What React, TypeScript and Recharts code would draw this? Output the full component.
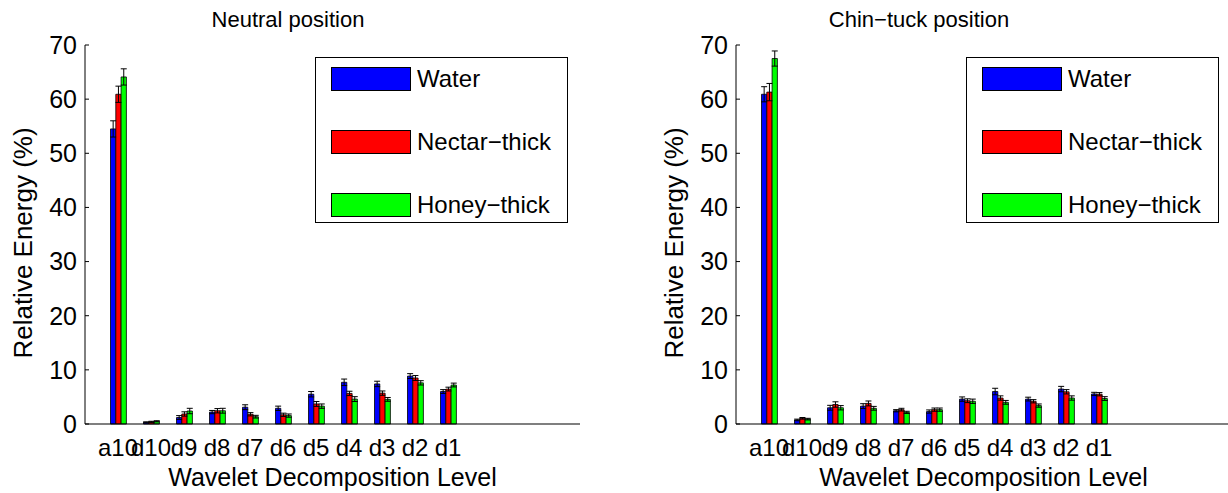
import { BarChart, Bar, XAxis, YAxis, ErrorBar, Legend } from 'recharts';

const levels = ['a10', 'd10', 'd9', 'd8', 'd7', 'd6', 'd5', 'd4', 'd3', 'd2', 'd1'];
const yTicks = [0, 10, 20, 30, 40, 50, 60, 70];
const xTicks = [1, 2, 3, 4, 5, 6, 7, 8, 9, 10, 11];

const seriesNames = ['Water', 'Nectar\u2212thick', 'Honey\u2212thick'];
const seriesColors = ['#0000ff', '#ff0000', '#00ff00'];

// neutral position
const neutralWater = [54.5, 0.3, 1.2, 2.2, 3.1, 2.9, 5.5, 7.7, 7.4, 8.85, 6.0];
const neutralNectar = [60.9, 0.4, 1.85, 2.45, 1.8, 1.7, 3.7, 5.65, 5.7, 8.5, 6.45];
const neutralHoney = [64.1, 0.5, 2.4, 2.45, 1.35, 1.55, 3.3, 4.6, 4.55, 7.6, 7.2];
const neutralWaterErr = [1.5, 0.1, 0.35, 0.3, 0.45, 0.4, 0.5, 0.6, 0.5, 0.45, 0.35];
const neutralNectarErr = [1.5, 0.1, 0.4, 0.4, 0.3, 0.3, 0.45, 0.4, 0.4, 0.45, 0.35];
const neutralHoneyErr = [1.5, 0.1, 0.5, 0.45, 0.25, 0.3, 0.4, 0.45, 0.35, 0.4, 0.35];

// chin-tuck position
const chinWater = [60.9, 0.75, 3.0, 3.3, 2.45, 2.3, 4.6, 6.0, 4.6, 6.45, 5.55];
const chinNectar = [61.3, 1.05, 3.6, 3.8, 2.65, 2.65, 4.3, 4.8, 4.2, 5.95, 5.5];
const chinHoney = [67.5, 0.9, 3.0, 2.9, 2.15, 2.65, 4.2, 4.0, 3.4, 4.8, 4.7];
const chinWaterErr = [1.4, 0.15, 0.45, 0.45, 0.2, 0.3, 0.4, 0.6, 0.35, 0.5, 0.3];
const chinNectarErr = [1.6, 0.15, 0.5, 0.45, 0.25, 0.3, 0.35, 0.4, 0.3, 0.4, 0.3];
const chinHoneyErr = [1.4, 0.15, 0.4, 0.35, 0.2, 0.3, 0.4, 0.35, 0.3, 0.4, 0.35];

const font = '"Liberation Sans", Arial, Helvetica, sans-serif';

const buildRows = (vals: number[][], errs: number[][]) =>
  levels.map((name, i) => ({
    pos: i + 1,
    name,
    s0: vals[0][i],
    s1: vals[1][i],
    s2: vals[2][i],
    e0: errs[0][i],
    e1: errs[1][i],
    e2: errs[2][i],
  }));

const neutralRows = buildRows(
  [neutralWater, neutralNectar, neutralHoney],
  [neutralWaterErr, neutralNectarErr, neutralHoneyErr]
);
const chinRows = buildRows(
  [chinWater, chinNectar, chinHoney],
  [chinWaterErr, chinNectarErr, chinHoneyErr]
);

const LegendBox = () => (
  <div
    style={{
      width: 253,
      height: 166,
      border: '1px solid #000',
      background: '#fff',
      boxSizing: 'border-box',
      position: 'relative',
      fontFamily: font,
      fontSize: 24,
      color: '#000',
    }}
  >
    {seriesNames.map((s, i) => (
      <div
        key={s}
        style={{ position: 'absolute', left: 15, top: 9 + i * 63, display: 'flex', alignItems: 'center', whiteSpace: 'nowrap' }}
      >
        <div style={{ width: 80, height: 24, background: seriesColors[i], border: '1px solid #000', boxSizing: 'border-box' }} />
        <span style={{ marginLeft: 6, lineHeight: '24px' }}>{s}</span>
      </div>
    ))}
  </div>
);

function EnergyPanel({ rows, left, width, marginRight }: { rows: any[]; left: number; width: number; marginRight: number }) {
  return (
    <div style={{ position: 'absolute', left, top: 0 }}>
      <BarChart
        width={width}
        height={493}
        data={rows}
        margin={{ top: 45, right: marginRight, bottom: 0, left: 0 }}
        barGap={0}
        barSize={5.3}
      >
        <XAxis
          dataKey="pos"
          type="number"
          domain={[0, 15]}
          ticks={xTicks}
          interval={0}
          allowDataOverflow
          height={69}
          tickSize={0}
          tickMargin={15}
          tickLine={false}
          axisLine={{ stroke: '#000', strokeWidth: 1.2 }}
          tick={{ fill: '#000', fontSize: 24, fontFamily: font }}
          tickFormatter={(v: number) => levels[v - 1] ?? ''}
        />
        <YAxis
          type="number"
          domain={[0, 70]}
          ticks={yTicks}
          width={85}
          tickSize={-4}
          tickMargin={12}
          interval={0}
          axisLine={{ stroke: '#000' }}
          tickLine={{ stroke: '#000' }}
          tick={{ fill: '#000', fontSize: 25, fontFamily: font }}
        />
        <Legend
          layout="vertical"
          align="center"
          verticalAlign="middle"
          content={() => <LegendBox />}
          wrapperStyle={{ left: 315, top: 57, width: 253, height: 166 }}
        />
        {seriesNames.map((s, i) => (
          <Bar key={s} dataKey={`s${i}`} name={s} fill={seriesColors[i]} stroke="#000" strokeWidth={0.8} isAnimationActive={false}>
            <ErrorBar dataKey={`e${i}`} width={3} stroke="#000" strokeWidth={1} direction="y" />
          </Bar>
        ))}
      </BarChart>
    </div>
  );
}

export default function App() {
  return (
    <div style={{ position: 'absolute', left: 0, top: 0, width: 1228, height: 493, overflow: 'hidden', background: '#fff' }}>
      <EnergyPanel rows={neutralRows} left={0} width={600} marginRight={20} />
      <EnergyPanel rows={chinRows} left={651} width={580} marginRight={0} />
      <svg width={1228} height={493} style={{ position: 'absolute', left: 0, top: 0, pointerEvents: 'none' }} fontFamily={font} fill="#000">
        <text x={288} y={27} fontSize={22} textAnchor="middle">Neutral position</text>
        <text x={919} y={27} fontSize={22} textAnchor="middle">Chin{'\u2212'}tuck position</text>
        <text x={332.5} y={486} fontSize={25} textAnchor="middle">Wavelet Decomposition Level</text>
        <text x={983.5} y={486} fontSize={25} textAnchor="middle">Wavelet Decomposition Level</text>
        <text x={32} y={243} fontSize={26} textAnchor="middle" transform="rotate(-90 32 243)">Relative Energy (%)</text>
        <text x={683} y={243} fontSize={26} textAnchor="middle" transform="rotate(-90 683 243)">Relative Energy (%)</text>
      </svg>
    </div>
  );
}
